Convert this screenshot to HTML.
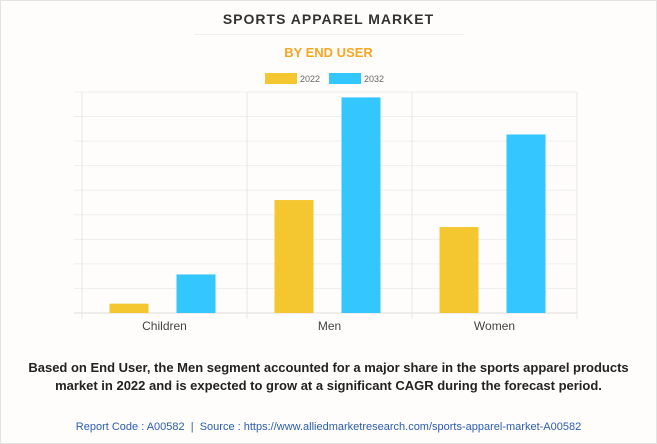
<!DOCTYPE html>
<html><head><meta charset="utf-8"><style>
body{margin:0;background:#fff;font-family:"Liberation Sans",sans-serif}
#wrap{position:relative;width:655px;height:442px;border:1px solid #e3e3e3;background:#fffdfc}
.t{position:absolute;left:0;width:655px;text-align:center}
</style></head><body>
<div id="wrap">
<div class="t" style="top:10px;font-weight:bold;font-size:14px;letter-spacing:1px;color:#333">SPORTS APPAREL MARKET</div>
<div style="position:absolute;left:193px;top:33px;width:270px;height:1px;background:#eee"></div>
<div class="t" style="top:44px;font-weight:bold;font-size:13px;color:#f5a623">BY END USER</div>
<svg id="chart" width="655" height="340" style="position:absolute;left:0;top:0"></svg>
<div class="t" style="top:358px;font-weight:bold;font-size:13px;line-height:18px;color:#222;padding:0 20px;box-sizing:border-box">Based on End User, the Men segment accounted for a major share in the sports apparel products market in 2022 and is expected to grow at a significant CAGR during the forecast period.</div>
<div class="t" style="top:420px;font-size:11px;color:#2a5db0">Report Code : A00582 &nbsp;|&nbsp; Source : https://www.alliedmarketresearch.com/sports-apparel-market-A00582</div>
</div>
<script>
const categories=["Children","Men","Women"];
const series2022=[0.38,4.6,3.5];
const series2032=[1.57,8.78,7.27];
const seriesNames=["2022","2032"];
const yMax=9, yTicks=9;
const ns="http://www.w3.org/2000/svg";
const svg=document.getElementById('chart');
const L=81,R=576,T=91,B=312;
const cw=(R-L)/categories.length;
const y=v=>B-(v/yMax)*(B-T);
function mk(tag,at){const e=document.createElementNS(ns,tag);for(const k in at)e.setAttribute(k,at[k]);svg.appendChild(e);return e;}
for(let i=0;i<=yTicks;i++){const g=mk('line',{x1:L-8,x2:R,y1:y(i*yMax/yTicks),y2:y(i*yMax/yTicks),stroke:i==0?'#ddd':'#eee','stroke-width':1});

}
for(let i=0;i<=categories.length;i++){const d=mk('line',{x1:L+i*cw,x2:L+i*cw,y1:T,y2:B+6,stroke:'#e6e6e6'});

}
const colors=["#f4c630","#33c6ff"];
const data=[series2022,series2032];
categories.forEach((c,i)=>{
 const cx=L+i*cw+cw/2;
 data.forEach((s,j)=>{
  const x=cx+(j==0?-55:12);
  const r=mk('rect',{x:x,y:y(s[i]),width:39,height:B-y(s[i]),fill:colors[j]});
  
  
 });
 const t=mk('text',{x:cx,y:B+17,'text-anchor':'middle','font-size':12,fill:'#444','font-family':'Liberation Sans'});
 t.textContent=c;
 
 
});
seriesNames.forEach((n,j)=>{
 const lx=264+j*64;
 const r=mk('rect',{x:lx,y:72,width:32,height:11,fill:colors[j]});
 
 
 const t=mk('text',{x:lx+35,y:81,'font-size':9,fill:'#666','font-family':'Liberation Sans'});
 t.textContent=n;
 
 
});
</script>
</body></html>
